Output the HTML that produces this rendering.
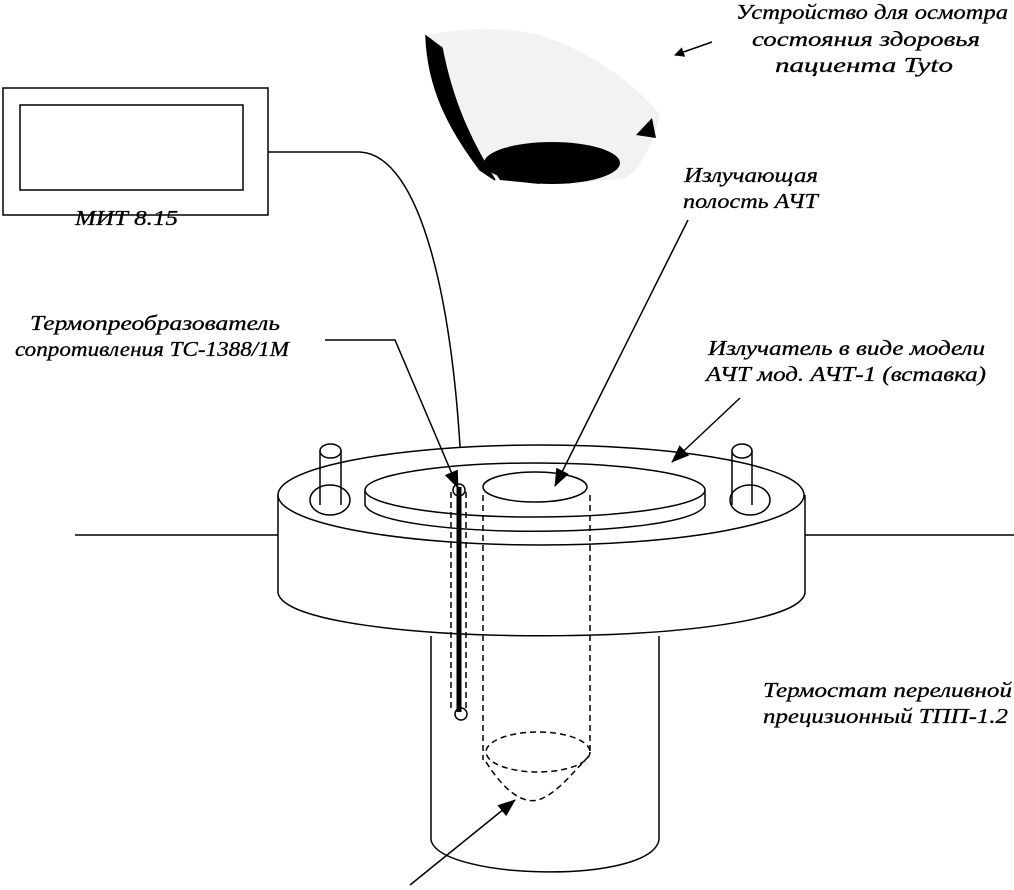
<!DOCTYPE html>
<html><head><meta charset="utf-8"><style>
body{margin:0;background:#fff}
svg{display:block}
text{font-family:"Liberation Serif",serif;font-style:italic;font-size:21px;fill:#000;stroke:#000;stroke-width:0.3}
</style></head><body>
<svg width="1014" height="890" viewBox="0 0 1014 890" xmlns="http://www.w3.org/2000/svg">
<defs>
<marker id="a" markerWidth="10" markerHeight="10" refX="9" refY="5" orient="auto" markerUnits="userSpaceOnUse" viewBox="0 0 10 10"><path d="M0,0 L10,5 L0,10 z" fill="#000"/></marker>
<marker id="b" markerWidth="18" markerHeight="14" refX="17" refY="7" orient="auto" markerUnits="userSpaceOnUse" viewBox="0 0 18 14"><path d="M0,0 L18,7 L0,14 z" fill="#000"/></marker></defs>
<g fill="none" stroke="#000" stroke-width="1.5">
<!-- device -->
<path d="M428,35 C450,30 500,25 540,35 C600,55 640,90 660,115 C655,140 640,170 625,178 C580,185 520,185 490,175 C460,140 432,100 428,35 Z" fill="#f2f2f2" stroke="none"/>
<path d="M426,36 C428,90 450,130 480,170 L495,180 C470,140 452,100 442,48 Z" fill="#000" stroke="#000"/>
<ellipse cx="552" cy="163" rx="68" ry="21" fill="#000" stroke="none"/>
<path d="M487,160 L500,180 L540,184 Z" fill="#000" stroke="none"/>
<path d="M636,135 L652,118 L656,138 Z" fill="#000" stroke="none"/>
<!-- MIT -->
<rect x="3" y="88" width="265" height="127"/>
<rect x="20" y="105" width="223" height="85"/>
<path d="M268,152 L360,152 C420,155 455,300 462,487"/>
<!-- horizontal lines -->
<line x1="75" y1="535" x2="278" y2="535"/>
<line x1="805" y1="535" x2="1014" y2="535"/>
<!-- lower cylinder -->
<path d="M431,636 L431,840 C440,880 650,885 659,840 L659,636" fill="#fff"/>
<!-- flange -->
<path d="M278,495 L278,593 C290,650 795,650 805,593 L805,495" fill="#fff"/>
<ellipse cx="541" cy="495" rx="263" ry="50" fill="#fff"/>
<!-- insert disk -->
<path d="M365,490 L365,505 C380,540 690,540 705,505 L705,490"/>
<ellipse cx="535" cy="490" rx="170" ry="27" fill="#fff"/>
<ellipse cx="535" cy="487" rx="52" ry="15" fill="#fff"/>
<!-- pins -->
<ellipse cx="330" cy="500" rx="20" ry="15"/>
<path d="M320,451 L320,505 M341,451 L341,505" />
<ellipse cx="330.5" cy="451" rx="10.5" ry="7" fill="#fff"/>
<ellipse cx="750" cy="500" rx="20" ry="15"/>
<path d="M732,451 L732,505 M752,451 L752,505"/>
<ellipse cx="742" cy="451" rx="10" ry="7" fill="#fff"/>
<!-- dashed cavity -->
<g stroke-dasharray="6,4">
<path d="M483,495 L483,760 M590,495 L590,752"/>
<ellipse cx="538" cy="752" rx="52" ry="20"/>
<path d="M486,762 C510,800 530,805 543,798 C560,790 575,770 590,755"/>
<path d="M451,492 L451,712 M466,492 L466,712"/>
</g>
<circle cx="459" cy="490" r="6"/>
<circle cx="461" cy="714" r="6"/>
<line x1="459" y1="487" x2="459" y2="712" stroke-width="5"/>
<!-- arrows -->
<line x1="712" y1="42" x2="675" y2="55" marker-end="url(#a)"/>
<line x1="688" y1="220" x2="555" y2="486" marker-end="url(#b)"/>
<line x1="740" y1="398" x2="672" y2="462" marker-end="url(#b)"/>
<path d="M325,340 L395,340 L458,488" marker-end="url(#b)"/>
<line x1="410" y1="885" x2="515" y2="800" marker-end="url(#b)"/>
</g>
<g>
<text x="736" y="19" textLength="272" lengthAdjust="spacingAndGlyphs">Устройство для осмотра</text>
<text x="752" y="46" textLength="228" lengthAdjust="spacingAndGlyphs">состояния здоровья</text>
<text x="775" y="72" textLength="178" lengthAdjust="spacingAndGlyphs">пациента Tyto</text>
<text x="75" y="225" textLength="103" lengthAdjust="spacingAndGlyphs">МИТ 8.15</text>
<text x="684" y="182" textLength="134" lengthAdjust="spacingAndGlyphs">Излучающая</text>
<text x="683" y="208" textLength="135" lengthAdjust="spacingAndGlyphs">полость АЧТ</text>
<text x="30" y="330" textLength="250" lengthAdjust="spacingAndGlyphs">Термопреобразователь</text>
<text x="15" y="356" textLength="274" lengthAdjust="spacingAndGlyphs">сопротивления ТС-1388/1М</text>
<text x="708" y="355" textLength="277" lengthAdjust="spacingAndGlyphs">Излучатель в виде модели</text>
<text x="706" y="381" textLength="280" lengthAdjust="spacingAndGlyphs">АЧТ мод. АЧТ-1 (вставка)</text>
<text x="763" y="697" textLength="249" lengthAdjust="spacingAndGlyphs">Термостат переливной</text>
<text x="763" y="723" textLength="245" lengthAdjust="spacingAndGlyphs">прецизионный ТПП-1.2</text>
</g>
</svg>
</body></html>
